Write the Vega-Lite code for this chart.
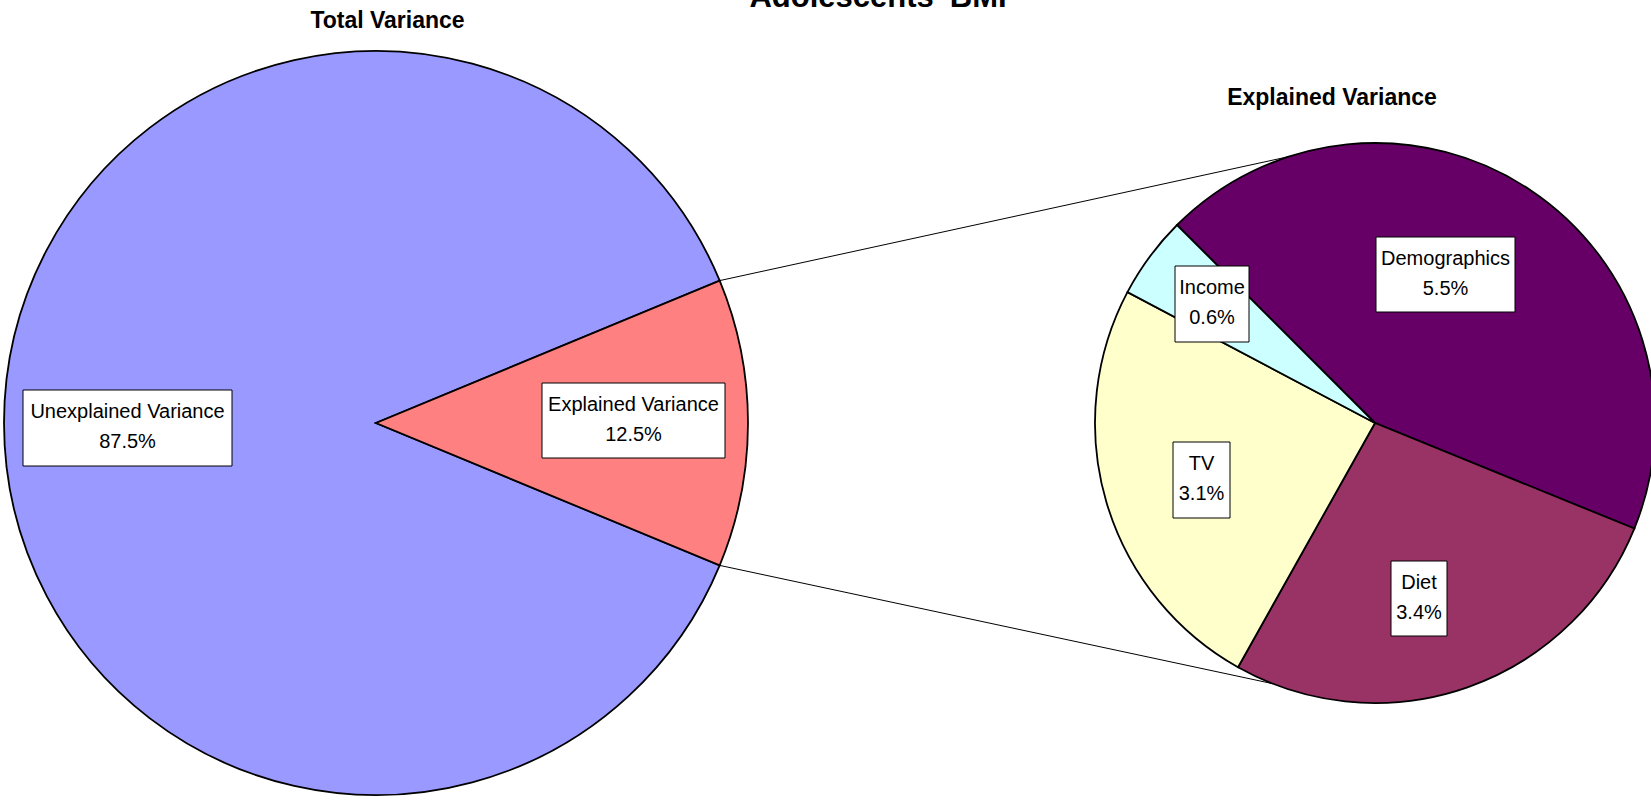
{
  "$schema": "https://vega.github.io/schema/vega-lite/v6.json",
  "width": 1651,
  "height": 804,
  "padding": 0,
  "autosize": {"type": "none"},
  "background": "white",
  "config": {"view": {"stroke": null}, "axis": {"disable": true}, "legend": {"disable": true}},
  "datasets": {
    "slices": [
      {"pie": "total", "category": "Unexplained Variance", "share": 0.875, "bx": 23, "bx2": 232, "by": 390, "by2": 466, "lx": 127.5, "ly": 428},
      {"pie": "total", "category": "Explained Variance", "share": 0.125, "bx": 542, "bx2": 725, "by": 383, "by2": 458, "lx": 633.5, "ly": 420.5},
      {"pie": "explained", "category": "Demographics", "share": 0.055, "bx": 1376, "bx2": 1515, "by": 237, "by2": 312, "lx": 1445.5, "ly": 274.5},
      {"pie": "explained", "category": "Diet", "share": 0.034, "bx": 1391, "bx2": 1447, "by": 561, "by2": 636, "lx": 1419, "ly": 598.5},
      {"pie": "explained", "category": "TV", "share": 0.031, "bx": 1173, "bx2": 1230, "by": 442, "by2": 518, "lx": 1201.5, "ly": 480},
      {"pie": "explained", "category": "Income", "share": 0.006, "bx": 1175, "bx2": 1249, "by": 266, "by2": 342, "lx": 1212, "ly": 304}
    ],
    "connectors": [
      {"x": 719.7, "y": 280.6, "x2": 1288.5, "y2": 156.7},
      {"x": 719.7, "y": 565.4, "x2": 1272.8, "y2": 683.7}
    ],
    "titles": [
      {"t": "Total Variance", "x": 387.5, "y": 28},
      {"t": "Explained Variance", "x": 1332, "y": 105}
    ],
    "main": [
      {"t": "Adolescents' BMI", "x": 878, "y": 7}
    ]
  },
  "layer": [
    {
      "data": {"name": "connectors"},
      "mark": {"type": "rule", "color": "black", "strokeWidth": 1},
      "encoding": {
        "x": {"field": "x", "type": "quantitative", "scale": {"domain": [0, 1651], "nice": false, "zero": false}},
        "y": {"field": "y", "type": "quantitative", "scale": {"domain": [0, 804], "nice": false, "zero": false, "reverse": true}},
        "x2": {"field": "x2"},
        "y2": {"field": "y2"}
      }
    },
    {
      "data": {"name": "slices"},
      "transform": [{"filter": "datum.pie === 'total'"}],
      "mark": {"type": "arc", "radius": 372, "stroke": "black", "strokeWidth": 1.8},
      "encoding": {
        "x": {"datum": 376, "type": "quantitative"},
        "y": {"datum": 423, "type": "quantitative"},
        "theta": {"field": "share", "type": "quantitative", "stack": true, "scale": {"range": [1.1781, 7.4613]}},
        "order": {"field": "share", "sort": "ascending"},
        "color": {
          "field": "category", "type": "nominal",
          "scale": {
            "domain": ["Unexplained Variance", "Explained Variance", "Demographics", "Diet", "TV", "Income"],
            "range": ["#9999FF", "#FF8080", "#660066", "#993366", "#FFFFCC", "#CCFFFF"]
          }
        }
      }
    },
    {
      "data": {"name": "slices"},
      "transform": [{"filter": "datum.pie === 'explained'"}],
      "mark": {"type": "arc", "radius": 280, "stroke": "black", "strokeWidth": 1.8},
      "encoding": {
        "x": {"datum": 1375, "type": "quantitative"},
        "y": {"datum": 423, "type": "quantitative"},
        "theta": {"field": "share", "type": "quantitative", "stack": true, "scale": {"range": [-0.7854, 5.4978]}},
        "order": {"field": "share", "sort": "descending"},
        "color": {"field": "category", "type": "nominal"}
      }
    },
    {
      "data": {"name": "slices"},
      "mark": {"type": "rect", "fill": "white", "stroke": "black", "strokeWidth": 1},
      "encoding": {
        "x": {"field": "bx", "type": "quantitative"},
        "x2": {"field": "bx2"},
        "y": {"field": "by", "type": "quantitative"},
        "y2": {"field": "by2"}
      }
    },
    {
      "data": {"name": "slices"},
      "mark": {"type": "text", "font": "Liberation Sans", "fontSize": 20, "align": "center", "baseline": "alphabetic", "dy": -10, "color": "black"},
      "encoding": {
        "x": {"field": "lx", "type": "quantitative"},
        "y": {"field": "ly", "type": "quantitative"},
        "text": {"field": "category"}
      }
    },
    {
      "data": {"name": "slices"},
      "mark": {"type": "text", "font": "Liberation Sans", "fontSize": 20, "align": "center", "baseline": "alphabetic", "dy": 20, "color": "black"},
      "encoding": {
        "x": {"field": "lx", "type": "quantitative"},
        "y": {"field": "ly", "type": "quantitative"},
        "text": {"field": "share", "type": "quantitative", "format": ".1%"}
      }
    },
    {
      "data": {"name": "titles"},
      "mark": {"type": "text", "font": "Liberation Sans", "fontSize": 23, "fontWeight": "bold", "align": "center", "baseline": "alphabetic", "color": "black"},
      "encoding": {
        "x": {"field": "x", "type": "quantitative"},
        "y": {"field": "y", "type": "quantitative"},
        "text": {"field": "t"}
      }
    },
    {
      "data": {"name": "main"},
      "mark": {"type": "text", "font": "Liberation Sans", "fontSize": 31, "fontWeight": "bold", "align": "center", "baseline": "alphabetic", "color": "black"},
      "encoding": {
        "x": {"field": "x", "type": "quantitative"},
        "y": {"field": "y", "type": "quantitative"},
        "text": {"field": "t"}
      }
    }
  ],
  "resolve": {"scale": {"theta": "independent"}}
}
